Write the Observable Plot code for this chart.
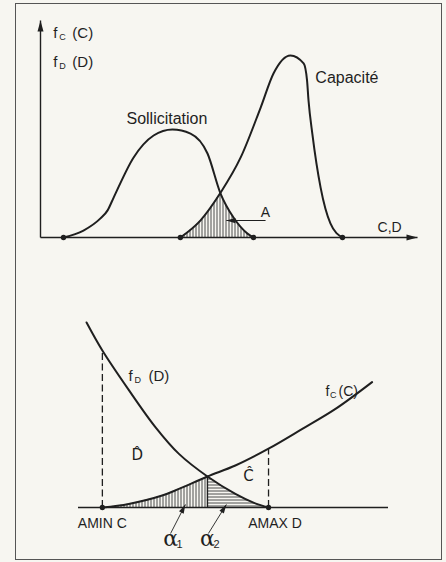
<!DOCTYPE html>
<html><head><meta charset="utf-8">
<script src="https://cdn.jsdelivr.net/npm/d3@7"></script>
<script src="https://cdn.jsdelivr.net/npm/@observablehq/plot@0.6"></script>
<style>
html,body{margin:0;padding:0;background:#f7f6f1;}
#wrap{position:relative;width:446px;height:562px;overflow:hidden;}
#frame{position:absolute;left:15px;top:3px;width:427px;height:557px;border:1.5px solid #555;box-sizing:border-box;pointer-events:none;}
#wrap svg{display:block;}
</style></head><body>
<div id="wrap"><div id="top"></div><div id="bottom"></div><div id="frame"></div></div>
<script>
// ---------- TOP PANEL (densities of load and capacity, arbitrary units 0–100) ----------
const sollicitation = [
  {x:6.1,y:0},{x:11.4,y:3.2},{x:15.9,y:8.8},{x:17.8,y:12.5},{x:19.4,y:18.4},{x:24.7,y:36.9},
  {x:30.0,y:47.0},{x:35.0,y:49.8},{x:39.8,y:47.9},{x:44.3,y:38.7},{x:47.7,y:20.5},
  {x:51.2,y:9.2},{x:54.9,y:1.8},{x:56.5,y:0}
];
const capacite = [
  {x:37.1,y:0},{x:42.4,y:7.8},{x:47.7,y:20.5},{x:53.1,y:36.9},{x:58.4,y:59.9},{x:61.8,y:75.6},
  {x:66.3,y:83.9},{x:69.8,y:80.2},{x:70.7,y:72.4},{x:71.1,y:63},{x:72.1,y:47.9},{x:74.3,y:23.0},
  {x:76.9,y:6.5},{x:80.1,y:0}
];
const topCross = 47.7;
const topAxes = [{x1:0,y1:0,x2:0,y2:100},{x1:0,y1:0,x2:100,y2:0}];
const topPointer = [{x1:59.7,y1:7.8,x2:49.3,y2:7.8}];
const topFLabels = [{x:3.4,y:94,sub:"C",arg:"(C)"},{x:3.4,y:80.6,sub:"D",arg:"(D)"}];
const topNames = [{x:22.8,y:54.8,text:"Sollicitation"},{x:72.9,y:73.7,text:"Capacité"}];
const topSmall = [{x:89.4,y:4.6,text:"C,D"},{x:58.4,y:11.5,text:"A"}];

// ---------- BOTTOM PANEL (tails near the failure zone) ----------
const fD = [
  {x:2.6,y:92.5},{x:7.7,y:78.5},{x:16.2,y:58.8},{x:24.8,y:40.2},{x:32.4,y:26.8},
  {x:41.6,y:15.5},{x:50.6,y:6.8},{x:56.8,y:2.2},{x:61.3,y:0}
];
const fC = [
  {x:7.7,y:0},{x:16.2,y:1.8},{x:27,y:6},{x:32.4,y:9.3},{x:41.6,y:15.5},{x:50.6,y:21},
  {x:61.3,y:29.4},{x:72.2,y:39.3},{x:82.9,y:49.3},{x:94.7,y:62.7}
];
const botCross = {x:41.6,y:15.5};
const aminC = 7.7, amaxD = 61.3;
const dashed = [{x:7.7,y:78.5},{x:61.3,y:29.4}];
const botPointers = [{x1:29.7,y1:-13,x2:34.5,y2:1.5},{x1:41.9,y1:-13,x2:47.7,y2:1.5}];
const botFLabels = [{x:16.1,y:65.5,sub:"D",arg:"(D)"}];
const botFLabelsTight = [{x:79.7,y:58,sub:"C",arg:"(C)"}];
const hats = [{x:19,y:26,text:"D\u0302"},{x:54.8,y:15.5,text:"C\u0302"}];
const ends = [{x:7.7,y:-8.2,text:"AMIN C"},{x:63.4,y:-8.2,text:"AMAX D"}];
const alphas = [{x:29.7,y:-15.5,sub:"1"},{x:41.6,y:-15.5,sub:"2"}];

const ink = "#1f1f1f";
const font = "'Liberation Sans', Arial, sans-serif";

// layout
const W = 446;
const TOP = {h:280, l:40, r:29, t:20, b:43};
const BOT = {h:282, l:78, r:58, t:27, b:55};
const kxT = (W - TOP.l - TOP.r)/100, kyT = (TOP.h - TOP.t - TOP.b)/100;
const kxB = (W - BOT.l - BOT.r)/100, kyB = (BOT.h - BOT.t - BOT.b)/100;

// narrow filled arrowheads, tip at the origin, pointing along +x
const bigHead = {draw(ctx){ ctx.moveTo(0,0); ctx.lineTo(-11,-3); ctx.lineTo(-11,3); ctx.closePath(); }};
const smallHead = {draw(ctx){ ctx.moveTo(0,0); ctx.lineTo(-9,-2.6); ctx.lineTo(-9,2.6); ctx.closePath(); }};
const heads = (list, kx, ky) => list.map(d => ({x:d.x2, y:d.y2,
  rot: Math.atan2(-(d.y2-d.y1)*ky, (d.x2-d.x1)*kx) * 180/Math.PI}));

function addPatterns(svg, prefix){
  const ns = "http://www.w3.org/2000/svg";
  const defs = document.createElementNS(ns, "defs");
  defs.innerHTML =
    `<pattern id="${prefix}v" patternUnits="userSpaceOnUse" width="3" height="3">
       <line x1="1" y1="0" x2="1" y2="3" stroke="${ink}" stroke-width="0.8"/></pattern>
     <pattern id="${prefix}h" patternUnits="userSpaceOnUse" width="3" height="3">
       <line x1="0" y1="1" x2="3" y2="1" stroke="${ink}" stroke-width="0.8"/></pattern>`;
  svg.insertBefore(defs, svg.firstChild);
}

function fMarks(list, size, subDx, argDx){
  return [
    Plot.text(list, {x:"x", y:"y", text:() => "f", textAnchor:"start", fontSize:size, fill:ink}),
    Plot.text(list, {x:"x", y:"y", text:"sub", textAnchor:"start", fontSize:9, dx:subDx, dy:4, fill:ink}),
    Plot.text(list, {x:"x", y:"y", text:"arg", textAnchor:"start", fontSize:size, dx:argDx, fill:ink, letterSpacing:"1px"})
  ];
}

const topPlot = Plot.plot({
  width:W, height:TOP.h,
  marginLeft:TOP.l, marginRight:TOP.r, marginTop:TOP.t, marginBottom:TOP.b,
  x:{domain:[0,100], axis:null},
  y:{domain:[0,100], axis:null},
  style:{background:"transparent", fontFamily:font, color:ink},
  marks:[
    Plot.areaY(capacite.filter(d => d.x <= topCross), {x:"x", y:"y", fill:"url(#tv)", curve:"monotone-x"}),
    Plot.areaY(sollicitation.filter(d => d.x >= topCross), {x:"x", y:"y", fill:"url(#tv)", curve:"monotone-x"}),
    Plot.link(topAxes, {x1:"x1", y1:"y1", x2:"x2", y2:"y2", stroke:ink, strokeWidth:1.4}),
    Plot.line(sollicitation, {x:"x", y:"y", curve:"monotone-x", stroke:ink, strokeWidth:2}),
    Plot.line(capacite, {x:"x", y:"y", curve:"monotone-x", stroke:ink, strokeWidth:2}),
    Plot.link(topPointer, {x1:"x1", y1:"y1", x2:"x2", y2:"y2", stroke:ink, strokeWidth:1.1}),
    Plot.dot(heads(topAxes, kxT, kyT), {x:"x", y:"y", rotate:"rot", symbol:bigHead, fill:ink, stroke:"none"}),
    Plot.dot(heads(topPointer, kxT, kyT), {x:"x", y:"y", rotate:"rot", symbol:smallHead, fill:ink, stroke:"none"}),
    Plot.dot([sollicitation[0], sollicitation[sollicitation.length-1], capacite[0], capacite[capacite.length-1]],
      {x:"x", y:"y", r:2.7, fill:ink}),
    ...fMarks(topFLabels, 15, 6, 19),
    Plot.text(topNames, {x:"x", y:"y", text:"text", textAnchor:"start", fontSize:16, letterSpacing:"0.8px", fill:ink}),
    Plot.text(topSmall, {x:"x", y:"y", text:"text", textAnchor:"start", fontSize:14, letterSpacing:"1px", fill:ink})
  ]
});
addPatterns(topPlot, "t");
document.getElementById("top").appendChild(topPlot);

const botPlot = Plot.plot({
  width:W, height:BOT.h,
  marginLeft:BOT.l, marginRight:BOT.r, marginTop:BOT.t, marginBottom:BOT.b,
  x:{domain:[0,100], axis:null},
  y:{domain:[0,100], axis:null},
  style:{background:"transparent", fontFamily:font, color:ink},
  marks:[
    Plot.areaY(fC.filter(d => d.x <= botCross.x), {x:"x", y:"y", fill:"url(#bv)", curve:"catmull-rom"}),
    Plot.areaY(fD.filter(d => d.x >= botCross.x), {x:"x", y:"y", fill:"url(#bh)", curve:"catmull-rom"}),
    Plot.ruleY([0], {x1:0, x2:100, stroke:ink, strokeWidth:1.3}),
    Plot.ruleX(dashed, {x:"x", y1:0, y2:"y", stroke:ink, strokeWidth:1.3, strokeDasharray:"7,3.5"}),
    Plot.ruleX([botCross], {x:"x", y1:0, y2:"y", stroke:ink, strokeWidth:1.4}),
    Plot.line(fD, {x:"x", y:"y", curve:"catmull-rom", stroke:ink, strokeWidth:2}),
    Plot.line(fC, {x:"x", y:"y", curve:"catmull-rom", stroke:ink, strokeWidth:2}),
    Plot.dot([aminC, amaxD], {x:d => d, y:0, r:2.7, fill:ink}),
    Plot.link(botPointers, {x1:"x1", y1:"y1", x2:"x2", y2:"y2", stroke:ink, strokeWidth:0.9}),
    Plot.dot(heads(botPointers, kxB, kyB), {x:"x", y:"y", rotate:"rot", symbol:smallHead, fill:ink, stroke:"none"}),
    ...fMarks(botFLabels, 15, 6, 20),
    ...fMarks(botFLabelsTight, 14, 4.5, 13),
    Plot.text(hats, {x:"x", y:"y", text:"text", fontSize:15, fontFamily:"'DejaVu Sans', sans-serif", fill:ink}),
    Plot.text(ends, {x:"x", y:"y", text:"text", fontSize:14, letterSpacing:"1.4px", fill:ink}),
    Plot.text(alphas, {x:"x", y:"y", text:() => "\u03b1", fontSize:22, fontFamily:"'DejaVu Serif', serif", fill:ink}),
    Plot.text(alphas, {x:"x", y:"y", text:"sub", fontSize:11, dx:9, dy:6, fill:ink})
  ]
});
addPatterns(botPlot, "b");
document.getElementById("bottom").appendChild(botPlot);
</script>
</body></html>
